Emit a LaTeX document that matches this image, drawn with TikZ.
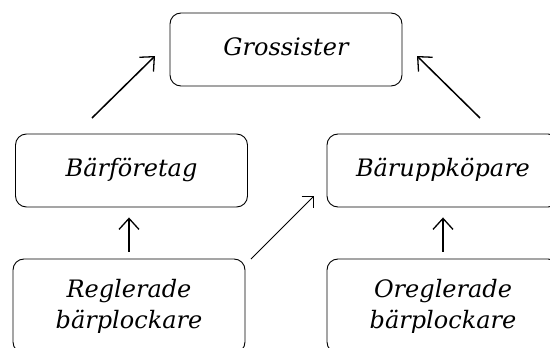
\documentclass[tikz,border=0pt]{standalone}
\usepackage{fontspec}
\setmainfont{DejaVu Serif}
\usetikzlibrary{arrows.meta}

\tikzset{
	box/.style={draw=black,line width=0.9pt,rounded corners=11pt,
		minimum width=232pt,minimum height=73pt,align=center,
		font=\fontsize{24}{31}\selectfont\itshape,inner sep=0pt},
	onebox/.style={box,text height=17.5pt,text depth=5.5pt},
	tallbox/.style={box,minimum height=94pt},
	arr/.style={black,line width=1.5pt,-{Straight Barb[length=11pt,width=20pt,line width=1.3pt]}},
	thinarr/.style={black,line width=0.8pt,-{Straight Barb[length=8.5pt,width=17pt,line width=0.8pt]}}
}

\begin{document}
\begin{tikzpicture}[x=1pt,y=1pt]
%Rahmen
\useasboundingbox (0,0) rectangle (550,-348);
\clip (0,0) rectangle (550,-348);
\node[onebox] (gross) at (286,-49.5) {Grossister};
\node[onebox] (foretag) at (131.5,-170.5) {Bärföretag};
\node[onebox] (uppk) at (443,-170.5) {Bäruppköpare};
\node[tallbox] (regl) at (129,-306) {Reglerade\\bärplockare};
\node[tallbox] (oregl) at (443,-306) {Oreglerade\\bärplockare};
\coordinate (f1) at (92,-118);
\coordinate (g1) at (155,-56);
\coordinate (u1) at (480,-118);
\coordinate (g2) at (417,-56);
\coordinate (r1) at (251,-259);
\coordinate (u2) at (314,-196);
\draw [arr] (f1)--(g1);
\draw [arr] (u1)--(g2);
\draw [arr,shorten <=7pt,shorten >=10pt] (regl.north)--(regl.north|-foretag.south);
\draw [arr,shorten <=7pt,shorten >=10pt] (oregl.north)--(uppk.south);
\draw [thinarr] (r1)--(u2);
\end{tikzpicture}
\end{document}
